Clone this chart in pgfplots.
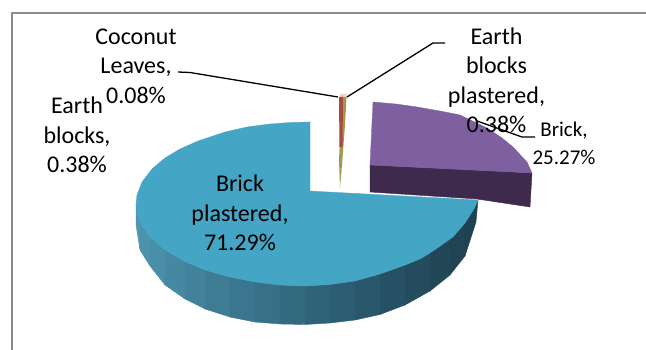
\documentclass[border=0pt]{standalone}
\usepackage{pgfplots}
\pgfplotsset{compat=1.18}
\usepackage{fontspec}
\setmainfont{Carlito}
\definecolor{purpT}{HTML}{7E5F9F}
\definecolor{purpS}{HTML}{3D2A4C}
\definecolor{blueT}{HTML}{45A5C5}
\definecolor{frameC}{HTML}{8C8C8C}
\definecolor{slivG}{HTML}{9C9A4E}
\definecolor{slivR}{HTML}{A84A40}
\definecolor{slivP}{HTML}{F0D8C8}
\newcommand{\lblbig}{\fontsize{24}{29.5}\selectfont}
\newcommand{\lblsmall}{\fontsize{21}{28}\selectfont}
\newcommand{\band}[9]{\definecolor{b#1}{HTML}{#1}\addplot[fill={b#1},draw={b#1},line width=0.4pt,forget plot] coordinates {(#2,#3) (#4,#5) (#6,#7) (#8,#9) (#2,#3)};}
\begin{document}
\begin{tikzpicture}
\begin{axis}[
  scale only axis, width=646pt, height=350pt,
  xmin=0, xmax=646, ymin=0, ymax=350, y dir=reverse,
  axis lines=none, clip=true]
% page background
\addplot[fill=white,draw=none,forget plot] coordinates {(0,0) (646,0) (646,350) (0,350) (0,0)};
% frame
\addplot[frameC,line width=2pt,forget plot] coordinates {(646,13) (11.5,13) (11.5,350)};
% dark purple wall, purple top
\addplot[fill=purpS,draw=purpS,forget plot] coordinates {(370,165) (532,173) (530,207) (477,199) (370,192) (370,165)};
\addplot[fill=purpT,draw=purpT,line width=0.3pt,forget plot] coordinates {(373,102) (396,104) (417,107) (440,111) (460,115) (487,128) (502,138) (513,147) (527,162) (532,173) (370,165) (373,102)};
% slivers
\addplot[fill=slivP,draw=none,forget plot] coordinates {(340,94) (347,94) (347,99) (340,99) (340,94)};
\addplot[fill=slivG,draw=none,forget plot] coordinates {(342,97) (346.5,97) (345,125) (342,165) (340,188) (339,160) (342,97)};
\addplot[fill=slivR,draw=none,forget plot] coordinates {(339,97) (343,97) (342.5,147) (339.5,147) (339,97)};
% blue wall, left to right
\band{4F96B1}{136}{204}{140}{222}{140}{250}{136}{225}
\band{4C92AD}{140}{222}{150}{237}{150}{266}{140}{250}
\band{4A8EA8}{150}{237}{165}{250}{165}{285}{150}{266}
\band{4688A2}{165}{250}{185}{261.5}{185}{299}{165}{285}
\band{42829B}{185}{261.5}{205}{270}{205}{309}{185}{299}
\band{3E7C94}{205}{270}{230}{277}{230}{317}{205}{309}
\band{3A768D}{230}{277}{255}{282}{255}{322}{230}{317}
\band{377087}{255}{282}{280}{285}{280}{324}{255}{322}
\band{336A80}{280}{285}{305}{286}{305}{324.5}{280}{324}
\band{2F6379}{305}{286}{330}{284.5}{330}{323}{305}{324.5}
\band{2C5D72}{330}{284.5}{355}{281}{355}{320}{330}{323}
\band{29576B}{355}{281}{380}{274}{380}{314.5}{355}{320}
\band{265164}{380}{274}{405}{265}{405}{305}{380}{314.5}
\band{244C5E}{405}{265}{430}{253}{430}{291}{405}{305}
\band{224858}{430}{253}{450}{239}{450}{275}{430}{291}
\band{204454}{450}{239}{465}{223}{465}{256}{450}{275}
\band{1F4252}{465}{223}{478}{200}{476}{222}{465}{256}
% blue top
\addplot[fill=blueT,draw=blueT,line width=0.3pt,forget plot] coordinates {
 (310,191) (310,122) (290,122.5) (270,124) (247,127) (225,132) (198,141) (180,149) (165,158) (152,169) (142,182) (137,195) (136,204) (137,213) (142,226) (152,239) (165,250) (185,261.5) (205,270) (230,277) (255,282) (280,285) (305,286) (330,284.5) (355,281) (380,274) (405,265) (420,259) (430,253) (453,237) (465,223) (474,209) (478,200) (310,191)};
% leader lines
\addplot[black,line width=1.3pt,forget plot] coordinates {(178,72) (190,72.5) (338,97)};
\addplot[black,line width=1.3pt,forget plot] coordinates {(445,43) (433,43) (347,97)};
\addplot[black,line width=1.3pt,forget plot] coordinates {(535,137) (522,137) (477,121)};
% labels
\node[align=center,inner sep=0pt,font=\lblbig] at (axis cs:136,66) {Coconut\\Leaves,\\0.08\%};
\node[align=center,inner sep=0pt,font=\lblbig] at (axis cs:77,135) {Earth\\blocks,\\0.38\%};
\node[align=center,inner sep=0pt,font=\lblbig] at (axis cs:496.5,80.5) {Earth\\blocks\\plastered,\\0.38\%};
\node[align=center,inner sep=0pt,font=\lblbig] at (axis cs:240,213) {Brick\\plastered,\\71.29\%};
\node[align=center,inner sep=0pt,font=\lblsmall] at (axis cs:564,143) {Brick,\\25.27\%};
\end{axis}
\end{tikzpicture}
\end{document}
